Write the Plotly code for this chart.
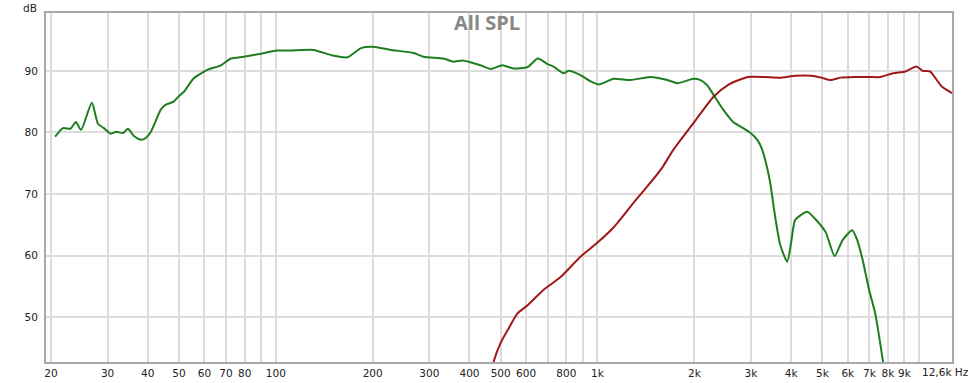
import plotly.graph_objects as go
import numpy as np

# Green driver (woofer) response
green_f = [20.6, 21.8, 23.0, 23.9, 24.8, 26.8, 28.0, 29.2, 30.7, 31.9, 33.5, 34.7, 36.2, 38.1, 39.4,
           40.9, 41.8, 43.9, 45.5, 48.1, 50.0, 51.8, 55.6, 61.5, 67.5, 72.5, 79.5, 87.9, 101, 111,
           131, 150, 167, 184, 200, 228, 268, 288, 332, 357, 381, 433, 466, 506, 548, 606, 652,
           700, 730, 784, 813, 885, 952, 1010, 1124, 1267, 1459, 1650, 1772, 1987, 2090, 2190,
           2295, 2460, 2640, 2840, 2990, 3140, 3250, 3430, 3560, 3700, 3890, 4010, 4120, 4490,
           4720, 5120, 5460, 5780, 6190, 6420, 6670, 6990, 7300, 7760]
green_db = [79.3, 80.7, 80.6, 81.7, 80.4, 84.8, 81.4, 80.7, 79.8, 80.1, 79.9, 80.6, 79.4, 78.8, 79.1,
            80.1, 81.2, 83.7, 84.5, 85.0, 85.9, 86.6, 88.8, 90.2, 90.9, 92.0, 92.3, 92.7, 93.3, 93.3,
            93.4, 92.5, 92.2, 93.7, 93.9, 93.4, 92.9, 92.3, 92.0, 91.5, 91.7, 90.9, 90.3, 90.9, 90.4,
            90.6, 92.0, 91.1, 90.7, 89.6, 90.0, 89.3, 88.3, 87.8, 88.7, 88.5, 89.0, 88.5, 88.0, 88.7,
            88.5, 87.7, 86.1, 83.7, 81.7, 80.7, 79.9, 78.8, 77.2, 72.3, 66.6, 61.7, 59.0, 62.5, 65.8,
            67.1, 66.1, 63.8, 59.9, 62.5, 64.1, 62.5, 59.3, 54.4, 50.6, 42.0]

# Red driver (tweeter) response
red_f = [460, 475, 500, 530, 564, 606, 679, 768, 885, 1000, 1123, 1296, 1422, 1586, 1722, 1987,
         2295, 2542, 2930, 3300, 3680, 4130, 4610, 4960, 5300, 5700, 6300, 7050, 7570, 8300, 9060,
         9800, 10270, 10800, 11780, 12650]
red_db = [39.5, 42.7, 45.8, 48.2, 50.6, 51.9, 54.4, 56.5, 59.8, 62.1, 64.6, 68.6, 71.1, 74.2, 77.2,
          81.5, 85.8, 87.7, 89.0, 89.0, 88.9, 89.2, 89.2, 88.9, 88.5, 88.9, 89.0, 89.0, 89.0, 89.6,
          89.9, 90.7, 90.0, 89.9, 87.4, 86.4]

x_grid = [20, 30, 40, 50, 60, 70, 80, 90, 100, 200, 300, 400, 500, 600, 700, 800, 900,
          1000, 2000, 3000, 4000, 5000, 6000, 7000, 8000, 9000, 10000]
x_labels = ["20", "30", "40", "50", "60", "70", "80", "", "100", "200", "300", "400", "500", "600",
            "", "800", "", "1k", "2k", "3k", "4k", "5k", "6k", "7k", "8k", "9k", ""]
y_ticks = [50, 60, 70, 80, 90]

fig = go.Figure()
fig.add_trace(go.Scatter(x=green_f, y=green_db, mode="lines",
                         line=dict(color="#1e7d1e", width=2, shape="spline", smoothing=0.6),
                         hoverinfo="skip", showlegend=False))
fig.add_trace(go.Scatter(x=red_f, y=red_db, mode="lines",
                         line=dict(color="#a01818", width=2, shape="spline", smoothing=0.6),
                         hoverinfo="skip", showlegend=False))

font = dict(family="DejaVu Sans, Verdana, sans-serif", size=10.5, color="#222")

L, R, T, B = 46, 23, 13, 21
PW = 975 - L - R

fig.update_layout(
    width=975, height=383,
    margin=dict(l=L, r=R, t=T, b=B, autoexpand=False),
    paper_bgcolor="white", plot_bgcolor="white",
    font=font,
    xaxis=dict(type="log", range=[np.log10(19.3), np.log10(12650)],
               tickvals=x_grid, ticktext=x_labels, tickangle=0, automargin=False,
               showgrid=True, gridcolor="#dcdcdc", gridwidth=2,
               showline=True, linecolor="#a8a8a8", linewidth=2, mirror=True,
               ticks="", zeroline=False, tickfont=font),
    yaxis=dict(range=[42.7, 99.4], tickvals=y_ticks, automargin=False,
               showgrid=True, gridcolor="#dcdcdc", gridwidth=2,
               showline=True, linecolor="#a8a8a8", linewidth=2, mirror=True,
               ticks="", zeroline=False, tickfont=font, ticklabelstandoff=4),
)

fig.add_annotation(text="All SPL", xref="paper", yref="paper", x=(487 - L) / PW, y=0.974,
                   showarrow=False, xanchor="center", yanchor="middle",
                   font=dict(family="Open Sans, DejaVu Sans, sans-serif", size=20, color="#888888",
                             weight="bold"))
fig.add_annotation(text="dB", xref="paper", yref="paper", x=(39 - L) / PW, y=1.0,
                   showarrow=False, xanchor="right", yanchor="bottom", yshift=-3,
                   font=font)
fig.add_annotation(text="12,6k Hz", xref="paper", yref="paper", x=(971 - L) / PW, y=0.0,
                   showarrow=False, xanchor="right", yanchor="top", yshift=-2,
                   font=font)

fig.write_html("out.html", config={"displayModeBar": False},
               post_script="document.body.style.margin='0';")
